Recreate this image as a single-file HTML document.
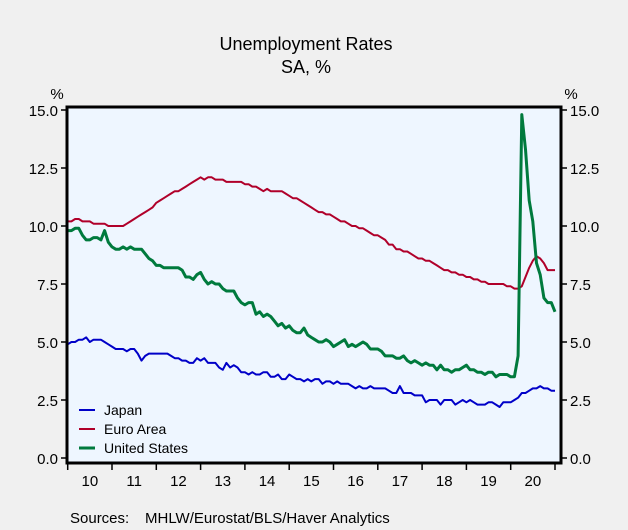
<!DOCTYPE html>
<html><head><meta charset="utf-8"><style>
html,body{margin:0;padding:0;background:#f0f0f0;}
svg{display:block;font-family:"Liberation Sans",sans-serif;}
</style></head><body>
<svg width="628" height="530" viewBox="0 0 628 530">
<rect x="0" y="0" width="628" height="530" fill="#f0f0f0"/>
<text x="306" y="50" font-size="18" text-anchor="middle">Unemployment Rates</text>
<text x="306" y="73" font-size="18" text-anchor="middle">SA, %</text>
<rect x="67" y="107" width="494" height="356" fill="#eef6ff"/>
<g id="axes"></g>
<g id="series"></g>
<rect x="67" y="107" width="494" height="356" fill="none" stroke="#000" stroke-width="3"/>
<text x="57" y="99" font-size="15" text-anchor="middle">%</text>
<text x="571" y="99" font-size="15" text-anchor="middle">%</text>
<g>
<line x1="79" y1="410" x2="95" y2="410" stroke="#0000c8" stroke-width="2"/>
<text x="104" y="415" font-size="14">Japan</text>
<line x1="79" y1="429" x2="95" y2="429" stroke="#b0002a" stroke-width="2"/>
<text x="104" y="434" font-size="14">Euro Area</text>
<line x1="79" y1="448" x2="95" y2="448" stroke="#007a3d" stroke-width="3"/>
<text x="104" y="453" font-size="14">United States</text>
</g>
<text x="70" y="523" font-size="15">Sources:</text>
<text x="145" y="523" font-size="15">MHLW/Eurostat/BLS/Haver Analytics</text>
</svg>
<script>
const years = ["10","11","12","13","14","15","16","17","18","19","20"];
const yTicks = [0, 2.5, 5, 7.5, 10, 12.5, 15];
const yTickLabels = ["0.0","2.5","5.0","7.5","10.0","12.5","15.0"];
const japan = [4.9,5.0,5.0,5.1,5.1,5.2,5.0,5.1,5.1,5.1,5.0,4.9,
4.8,4.7,4.7,4.7,4.6,4.7,4.7,4.5,4.2,4.4,4.5,4.5,
4.5,4.5,4.5,4.5,4.4,4.3,4.3,4.2,4.2,4.1,4.1,4.3,
4.2,4.3,4.1,4.1,4.1,3.9,3.8,4.1,3.9,4.0,3.9,3.7,
3.7,3.6,3.7,3.6,3.6,3.7,3.7,3.5,3.5,3.6,3.4,3.4,
3.6,3.5,3.4,3.4,3.3,3.4,3.3,3.4,3.4,3.2,3.3,3.3,
3.2,3.3,3.2,3.2,3.2,3.1,3.0,3.1,3.0,3.0,3.1,3.0,
3.0,3.0,3.0,2.9,2.8,2.8,3.1,2.8,2.8,2.8,2.7,2.7,
2.7,2.4,2.5,2.5,2.5,2.3,2.5,2.5,2.5,2.3,2.4,2.5,
2.4,2.5,2.4,2.3,2.3,2.3,2.4,2.4,2.3,2.2,2.4,2.4,
2.4,2.5,2.6,2.8,2.8,2.9,3.0,3.0,3.1,3.0,3.0,2.9,2.9];
const euroArea = [10.2,10.2,10.3,10.3,10.2,10.2,10.2,10.1,10.1,10.1,10.1,10.0,
10.0,10.0,10.0,10.0,10.1,10.2,10.3,10.4,10.5,10.6,10.7,10.8,
11.0,11.1,11.2,11.3,11.4,11.5,11.5,11.6,11.7,11.8,11.9,12.0,
12.1,12.0,12.1,12.1,12.0,12.0,12.0,11.9,11.9,11.9,11.9,11.9,
11.8,11.8,11.7,11.7,11.6,11.5,11.6,11.5,11.5,11.5,11.5,11.4,
11.3,11.2,11.2,11.1,11.0,10.9,10.8,10.7,10.6,10.6,10.5,10.5,
10.4,10.3,10.2,10.2,10.1,10.0,10.0,9.9,9.9,9.8,9.7,9.6,
9.6,9.5,9.4,9.2,9.2,9.0,9.0,8.9,8.9,8.8,8.7,8.6,
8.6,8.5,8.5,8.4,8.3,8.2,8.1,8.1,8.0,8.0,7.9,7.9,
7.8,7.8,7.7,7.7,7.6,7.6,7.5,7.5,7.5,7.5,7.5,7.4,
7.4,7.3,7.3,7.4,7.8,8.2,8.5,8.7,8.6,8.4,8.1,8.1,8.1];
const unitedStates = [9.8,9.8,9.9,9.9,9.6,9.4,9.4,9.5,9.5,9.4,9.8,9.3,
9.1,9.0,9.0,9.1,9.0,9.1,9.0,9.0,9.0,8.8,8.6,8.5,
8.3,8.3,8.2,8.2,8.2,8.2,8.2,8.1,7.8,7.8,7.7,7.9,
8.0,7.7,7.5,7.6,7.5,7.5,7.3,7.2,7.2,7.2,6.9,6.7,
6.6,6.7,6.7,6.2,6.3,6.1,6.2,6.1,5.9,5.7,5.8,5.6,
5.7,5.5,5.4,5.4,5.6,5.3,5.2,5.1,5.0,5.0,5.1,5.0,
4.8,4.9,5.0,5.1,4.8,4.9,4.8,4.9,5.0,4.9,4.7,4.7,
4.7,4.6,4.4,4.4,4.4,4.3,4.3,4.4,4.2,4.1,4.2,4.1,
4.0,4.1,4.0,4.0,3.8,4.0,3.8,3.8,3.7,3.8,3.8,3.9,
4.0,3.8,3.8,3.7,3.7,3.6,3.7,3.7,3.5,3.6,3.6,3.6,
3.5,3.5,4.4,14.8,13.3,11.1,10.2,8.4,7.9,6.9,6.7,6.7,6.3];

const NS = "http://www.w3.org/2000/svg";
const X0 = 67.7, YEARW = 44.3, Y0 = 458, Y15 = 110;
function xMonth(i){ return X0 + i * YEARW / 12; }
function yVal(v){ return Y0 - (v / 15) * (Y0 - Y15); }
const axes = document.getElementById("axes");
const seriesG = document.getElementById("series");
function mk(tag, attrs, parent){ const e = document.createElementNS(NS, tag); for (const k in attrs) e.setAttribute(k, attrs[k]); parent.appendChild(e); return e; }

yTicks.forEach((v, k) => {
  const y = yVal(v);
  const tl = mk("line", {x1: 61, x2: 67, y1: y, y2: y, stroke: "#000", "stroke-width": 1.5}, axes);
  
  
  const tr = mk("line", {x1: 561, x2: 567, y1: y, y2: y, stroke: "#000", "stroke-width": 1.5}, axes);
  
  
  const ll = mk("text", {x: 58, y: y + 6, "font-size": 15, "text-anchor": "end"}, axes);
  ll.textContent = yTickLabels[k];
  
  
  const rl = mk("text", {x: 570, y: y + 6, "font-size": 15, "text-anchor": "start"}, axes);
  rl.textContent = yTickLabels[k];
  
  
});
for (let j = 0; j <= years.length; j++) {
  const x = X0 + j * YEARW;
  const t = mk("line", {x1: x, x2: x, y1: 463, y2: 470, stroke: "#000", "stroke-width": 1.5}, axes);
  
  
  if (j < years.length) {
    const l = mk("text", {x: x + YEARW / 2, y: 486, "font-size": 15, "text-anchor": "middle"}, axes);
    l.textContent = years[j];
    
    
  }
}
function drawLine(data, color, w, name){
  const pts = data.map((v, i) => xMonth(i).toFixed(1) + "," + yVal(v).toFixed(1)).join(" ");
  const p = mk("polyline", {points: pts, fill: "none", stroke: color, "stroke-width": w, "stroke-linejoin": "round"}, seriesG);
  
  
}
drawLine(japan, "#0000c8", 2, "japan-line");
drawLine(euroArea, "#b0002a", 2, "euro-area-line");
drawLine(unitedStates, "#007a3d", 3, "united-states-line");
</script>
</body></html>
